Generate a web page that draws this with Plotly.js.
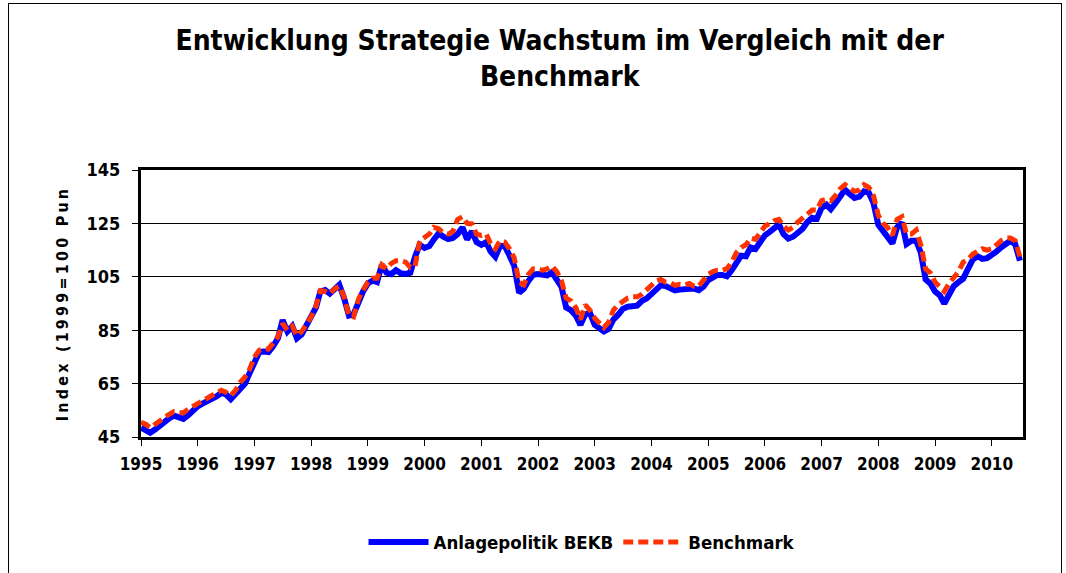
<!DOCTYPE html>
<html>
<head>
<meta charset="utf-8">
<script src="https://cdn.plot.ly/plotly-3.0.1.min.js"></script>
<style>
  html, body { margin: 0; padding: 0; background: #fff; overflow: hidden; }
  #wrap { position: relative; width: 1066px; height: 573px; }
  #chart { width: 1066px; height: 573px; }
  #frame { position: absolute; left: 8px; top: 3px; width: 1054px; height: 600px; border: 1px solid #000; pointer-events: none; box-sizing: border-box; }
  .g-ytitle text { letter-spacing: 3.2px; }
</style>
</head>
<body>
<div id="wrap">
  <div id="chart"></div>
  <div id="frame"></div>
</div>
<script>
// Monthly index values, January 1995 to July 2010
const startMonth = '1995-01';
const anlagepolitik = [
  48.5, 47.8, 46.6, 47.8, 49.3, 50.5, 52.0, 53.0, 52.3, 51.8, 53.2, 54.9,        // 1995
  56.5, 57.5, 58.2, 59.5, 60.2, 61.5, 61.0, 59.2, 61.0, 63.5, 65.0, 69.0,        // 1996
  73.5, 76.8, 77.0, 76.8, 79.0, 82.0, 88.8, 84.5, 86.5, 82.0, 83.5, 86.5,        // 1997
  89.5, 93.5, 99.5, 100.0, 98.7, 100.5, 102.0, 97.0, 90.5, 91.0, 95.5, 99.5,     // 1998
  102.5, 103.6, 103.0, 109.5, 106.5, 106.0, 107.5, 106.3, 106.1, 106.5, 112.5, 117.0, // 1999
  115.8, 116.5, 119.0, 121.3, 120.0, 119.1, 119.5, 121.0, 123.5, 119.0, 122.0, 118.0, // 2000
  117.0, 118.0, 114.5, 112.5, 116.5, 116.5, 113.0, 109.0, 99.0, 100.5, 103.5, 105.8,  // 2001
  106.0, 105.8, 105.5, 106.7, 104.3, 101.2, 93.5, 92.5, 90.5, 87.0, 91.0, 91.5,    // 2002
  87.0, 86.0, 84.5, 85.5, 89.0, 90.8, 93.0, 93.8, 94.3, 94.2, 96.0, 96.9,          // 2003
  98.5, 100.0, 101.8, 101.5, 101.0, 99.9, 100.2, 100.4, 100.5, 100.6, 100.0, 101.3, // 2004
  103.8, 104.9, 105.7, 105.7, 105.2, 107.5, 110.5, 112.9, 112.7, 116.0, 115.4, 118.0, // 2005
  120.5, 121.8, 123.5, 124.6, 121.0, 119.3, 120.0, 121.5, 123.0, 125.5, 127.1, 126.7, // 2006
  130.8, 132.0, 130.3, 132.7, 135.5, 137.6, 136.0, 134.5, 135.0, 137.0, 136.5, 132.7, // 2007
  124.5, 122.0, 120.0, 117.5, 123.5, 125.3, 117.3, 118.5, 118.5, 114.0, 104.0, 102.5, // 2008
  99.5, 98.0, 95.0, 98.5, 101.5, 103.0, 104.3, 108.0, 111.5, 112.7, 111.7, 112.0,   // 2009
  113.0, 114.5, 116.0, 117.5, 118.5, 117.2, 111.0                                  // 2010
];
const benchmark = [
  50.5, 49.8, 48.5, 49.8, 51.5, 52.5, 53.5, 54.5, 54.0, 54.0, 55.5, 56.5,          // 1995
  58.0, 59.0, 59.8, 60.8, 61.5, 62.5, 61.8, 60.5, 62.5, 65.5, 67.5, 70.5,          // 1996
  75.0, 77.5, 78.0, 78.0, 80.0, 82.5, 87.5, 85.0, 86.5, 83.0, 84.5, 87.0,          // 1997
  90.0, 94.0, 99.8, 99.5, 98.7, 100.5, 101.5, 97.5, 90.5, 90.0, 96.5, 100.0,       // 1998
  103.0, 104.5, 104.5, 109.5, 108.0, 110.0, 111.0, 111.0, 110.5, 108.5, 109.0, 118.5, // 1999
  119.5, 121.0, 123.5, 123.0, 121.5, 121.0, 122.0, 126.5, 127.5, 125.0, 124.8, 121.0, // 2000
  120.5, 121.0, 117.5, 115.5, 118.5, 118.0, 115.5, 112.0, 103.0, 102.0, 106.0, 108.0, // 2001
  107.8, 107.5, 108.0, 109.0, 107.0, 103.5, 97.0, 96.0, 93.5, 89.0, 94.5, 92.5,    // 2002
  89.5, 87.5, 86.0, 88.0, 92.5, 94.5, 96.0, 97.0, 97.5, 97.5, 98.5, 100.0,         // 2003
  101.5, 103.5, 104.0, 103.0, 102.8, 101.8, 102.2, 102.0, 102.5, 101.5, 101.5, 103.5, // 2004
  106.0, 107.0, 107.5, 107.5, 108.0, 110.5, 114.0, 116.0, 117.0, 119.5, 119.0, 121.5, // 2005
  124.0, 125.0, 126.0, 126.5, 124.0, 122.5, 123.5, 125.5, 127.0, 128.5, 130.0, 130.0, // 2006
  133.5, 134.0, 133.5, 135.5, 138.0, 139.5, 138.0, 137.0, 137.5, 139.5, 138.5, 135.5, // 2007
  128.0, 125.0, 123.5, 120.5, 126.5, 127.5, 121.0, 121.0, 122.5, 117.0, 108.0, 106.5, // 2008
  103.0, 101.0, 99.5, 102.5, 105.0, 107.0, 110.5, 111.5, 113.5, 114.5, 115.5, 115.0, // 2009
  115.5, 117.0, 118.5, 119.5, 119.5, 118.5, 112.5                                  // 2010
];
const seriesNames = ['Anlagepolitik BEKB', 'Benchmark'];
const yTicks = [45, 65, 85, 105, 125, 145];
const titleText = 'Entwicklung Strategie Wachstum im Vergleich mit der<br>Benchmark';
const yTitleText = 'Index (1999=100 Pun';

// month dates for the x axis
const months = [];
{
  let y = parseInt(startMonth.slice(0, 4), 10), m = parseInt(startMonth.slice(5, 7), 10);
  for (let i = 0; i < anlagepolitik.length; i++) {
    months.push(y + '-' + String(m).padStart(2, '0') + '-01');
    m++; if (m > 12) { m = 1; y++; }
  }
}

const FONT = '"DejaVu Sans Condensed", "Liberation Sans Narrow", "Liberation Sans", sans-serif';

const traces = [
  {
    x: months, y: anlagepolitik, name: seriesNames[0], type: 'scatter', mode: 'lines',
    line: { color: '#0000FF', width: 6 }
  },
  {
    x: months, y: benchmark, name: seriesNames[1], type: 'scatter', mode: 'lines',
    line: { color: '#FF3300', width: 5, dash: '10px,5px' }
  }
];

const layout = {
  width: 1066, height: 573,
  margin: { l: 141, r: 43, t: 170, b: 133 },
  paper_bgcolor: '#fff', plot_bgcolor: '#fff',
  font: { family: FONT, color: '#000', size: 16, weight: 700 },
  title: {
    text: titleText,
    font: { family: FONT, size: 28, weight: 700, color: '#000' },
    x: 0.525, xref: 'container', xanchor: 'center',
    y: 1 - 50 / 573, yref: 'container', yanchor: 'top'
  },
  xaxis: {
    type: 'date',
    range: ['1995-01-01', '2010-07-21'],
    tick0: '1995-01-01', dtick: 'M12', tickformat: '%Y',
    ticks: 'outside', ticklen: 6, tickwidth: 1, tickcolor: '#000',
    ticklabelstandoff: 4,
    showgrid: false, zeroline: false,
    showline: true, linecolor: '#000', linewidth: 3, mirror: true,
    tickfont: { family: FONT, size: 17, weight: 700, color: '#000' },
    fixedrange: true
  },
  yaxis: {
    range: [45, 145],
    tickvals: yTicks, ticktext: yTicks.map(String),
    ticks: 'outside', ticklen: 6, tickwidth: 1, tickcolor: '#000',
    ticklabelstandoff: 8,
    showgrid: true, gridcolor: '#000', gridwidth: 1,
    zeroline: false,
    showline: true, linecolor: '#000', linewidth: 3, mirror: true,
    tickfont: { family: FONT, size: 18, weight: 700, color: '#000' },
    title: { text: yTitleText, font: { family: FONT, size: 16, weight: 700, color: '#000' }, standoff: 14 },
    fixedrange: true
  },
  showlegend: true,
  legend: {
    orientation: 'h', x: 0.5, xanchor: 'center', y: -0.395, yanchor: 'middle',
    font: { family: FONT, size: 18.5, weight: 700, color: '#000' },
    itemwidth: 60, tracegroupgap: 0, bgcolor: 'rgba(0,0,0,0)'
  }
};

Plotly.newPlot('chart', traces, layout, { staticPlot: true, displayModeBar: false });
</script>
</body>
</html>
